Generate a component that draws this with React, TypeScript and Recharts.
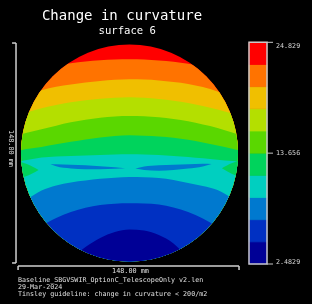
import React from "react";
import {
  ComposedChart,
  Area,
  XAxis,
  YAxis,
  ReferenceLine,
  ReferenceArea,
} from "recharts";

const W = 312;
const H = 304;
const M = { top: 35.7, right: 65.2, bottom: 33.7, left: 12.2 };
const SPAN = 80; // half width of the plotted window, mm
const APERTURE = 74; // semi-diameter of surface 6, mm
const BOTTOM = -90;
const TOP = 90;
const MONO = '"DejaVu Sans Mono", monospace';

// colour scale (change in curvature)
const levels = [
  2.4829, 4.7175, 6.9521, 9.1867, 11.4213, 13.656, 15.8906, 18.1252, 20.3598,
  22.5944, 24.829,
];
const levelColors = [
  "#000096",
  "#0030c2",
  "#0079cf",
  "#00cfc0",
  "#00d35c",
  "#5ad700",
  "#b4df00",
  "#f0bf00",
  "#ff7300",
  "#ff0000",
];
const scaleTicks = [2.4829, 13.656, 24.829];

// x positions across the aperture, mm
const gridX = [-80, -70, -60, -50, -40, -30, -20, -10, 0, 10, 20, 30, 40, 50, 60, 70, 80];

// contour lines (y in mm) between consecutive levels, lowest first
const edge1 = [-85, -85, -85, -78.4, -71.6, -64.1, -58.0, -53.9, -52.2, -52.9, -55.9, -61.7, -71.6, -83.2, -85, -85, -85];
const edge2 = [-66.2, -57.3, -49.8, -44.3, -40.2, -37.3, -35.5, -34.6, -34.3, -34.5, -35.2, -37.2, -40.2, -44.7, -50.5, -57.3, -66.2];
const edge3 = [-35.5, -31.4, -25.6, -22.2, -20.1, -18.8, -17.6, -16.8, -16.4, -16.5, -17.1, -18.4, -20.5, -22.5, -25.2, -30.7, -36.8];
const edge4 = [-6.8, -4.8, -3.1, -2.4, -2.0, -1.7, -1.4, -1.0, -0.9, -1.0, -1.4, -2.0, -2.7, -3.6, -4.6, -5.5, -6.8];
const edge5 = [0.7, 2.7, 4.1, 5.9, 7.6, 9.2, 10.6, 11.6, 12.1, 11.8, 11.3, 10.4, 9.0, 7.2, 5.1, 2.9, 0.7];
const edge6 = [10.9, 13.8, 16.2, 18.6, 20.9, 22.6, 24.0, 24.9, 25.2, 25.0, 24.3, 23.2, 21.6, 19.4, 17.1, 14.0, 10.9];
const edge7 = [23.9, 27.6, 30.5, 32.7, 34.6, 36.0, 37.0, 37.6, 38.0, 37.6, 36.8, 35.6, 34.1, 32.1, 29.7, 26.9, 23.9];
const edge8 = [35.5, 39.6, 42.8, 45.1, 46.7, 48.0, 49.1, 49.9, 50.3, 50.1, 49.5, 48.4, 47.1, 45.0, 42.0, 38.9, 34.8];
const edge9 = [52.7, 55.4, 57.7, 59.6, 61.2, 62.4, 63.2, 63.8, 63.9, 63.7, 63.1, 62.2, 60.9, 59.2, 57.3, 54.9, 52.1];
const edges = [edge1, edge2, edge3, edge4, edge5, edge6, edge7, edge8, edge9];

// small islands inside the cyan band, [low, high] in mm
type Range = [number, number] | null;
const islandX = [-80, -70, -62, -54, -50, -40, -30, -20, -10, -3, 4, 10, 20, 30, 40, 50, 56, 63, 70, 80];
const leftLobe: Range[] = [[-18.4, -4.8], [-15.7, -7.5], [-11.6, -11.6], null, null, null, null, null, null, null, null, null, null, null, null, null, null, null, null, null];
const leftStreak: Range[] = [null, null, null, [-7.7, -7.7], [-9.1, -7.7], [-10.6, -8.0], [-11.1, -8.4], [-11.1, -9.0], [-10.8, -9.7], [-10.4, -10.4], null, null, null, null, null, null, null, null, null, null];
const rightStreak: Range[] = [null, null, null, null, null, null, null, null, null, null, [-10.6, -10.6], [-11.6, -9.2], [-12.1, -8.4], [-11.6, -8.0], [-10.6, -7.7], [-9.2, -7.4], [-7.5, -7.5], null, null, null];
const rightLobe: Range[] = [null, null, null, null, null, null, null, null, null, null, null, null, null, null, null, null, null, [-10.4, -10.4], [-14.3, -6.8], [-17.1, -4.8]];

const bandRows = gridX.map((x, i) => {
  const row: Record<string, any> = { x, u9: [BOTTOM, TOP] };
  edges.forEach((e, j) => {
    row[`u${j}`] = [BOTTOM, e[i]];
  });
  return row;
});

const islandRows = islandX.map((x, i) => ({
  x,
  leftLobe: leftLobe[i],
  leftStreak: leftStreak[i],
  rightStreak: rightStreak[i],
  rightLobe: rightLobe[i],
}));

// one row per colour band for the scale bar
const scaleRows = levelColors.map((c, j) => ({ k: "scale", lo: levels[j], hi: levels[j + 1] }));

const pxPerMm = (W - M.left - M.right) / (2 * SPAN);
const apertureClip = `circle(${APERTURE * pxPerMm}px at ${M.left + SPAN * pxPerMm}px ${M.top + SPAN * pxPerMm}px)`;

const layer: React.CSSProperties = { position: "absolute", left: 0, top: 0 };
// grayscale text antialiasing
const textLayer: React.CSSProperties = { ...layer, willChange: "transform" };

function Axes() {
  return (
    <>
      <XAxis type="number" dataKey="x" domain={[-SPAN, SPAN]} allowDataOverflow hide />
      <YAxis type="number" domain={[-SPAN, SPAN]} allowDataOverflow hide />
    </>
  );
}

function BarTick({ x, y, payload }: any) {
  const v = payload.value;
  const shift = v === levels[levels.length - 1] ? 3 : v === levels[0] ? -2.3 : 0;
  return (
    <text x={x} y={y + shift} dy="0.35em" fill="#d8d8d8" fontSize={6.7} fontFamily={MONO}>
      {String(v)}
    </text>
  );
}

const barStroke = { stroke: "#d0d0d0", strokeWidth: 1.5 };
const textFill = "#e0e0e0";

export default function App() {
  return (
    <div
      style={{
        position: "fixed",
        left: 0,
        top: 0,
        width: W,
        height: H,
        background: "#000",
        overflow: "hidden",
      }}
    >
      <div style={{ ...layer, clipPath: apertureClip }}>
        <div style={layer}>
          <ComposedChart width={W} height={H} data={bandRows} margin={M}>
            {Axes()}
            {levelColors
              .map((c, j) => (
                <Area
                  key={j}
                  type="monotone"
                  dataKey={`u${j}`}
                  fill={c}
                  fillOpacity={1}
                  stroke="none"
                  dot={false}
                  activeDot={false}
                  isAnimationActive={false}
                />
              ))
              .reverse()}
          </ComposedChart>
        </div>
        <div style={layer}>
          <ComposedChart width={W} height={H} data={islandRows} margin={M}>
            {Axes()}
            {(["leftLobe", "rightLobe"] as const).map((k) => (
              <Area key={k} type="monotone" dataKey={k} fill={levelColors[4]} fillOpacity={1} stroke="none" dot={false} activeDot={false} isAnimationActive={false} />
            ))}
            {(["leftStreak", "rightStreak"] as const).map((k) => (
              <Area key={k} type="monotone" dataKey={k} fill={levelColors[2]} fillOpacity={1} stroke="none" dot={false} activeDot={false} isAnimationActive={false} />
            ))}
          </ComposedChart>
        </div>
      </div>

      {/* 148 mm scale bars */}
      <div style={layer}>
        <ComposedChart width={W} height={H} data={bandRows} margin={M}>
          {Axes()}
          <ReferenceLine ifOverflow="visible" segment={[{ x: -77.4, y: 75 }, { x: -77.4, y: -75 }]} {...barStroke} />
          <ReferenceLine ifOverflow="visible" segment={[{ x: -80.1, y: 75 }, { x: -77.4, y: 75 }]} {...barStroke} />
          <ReferenceLine ifOverflow="visible" segment={[{ x: -80.1, y: -75 }, { x: -77.4, y: -75 }]} {...barStroke} />
          <ReferenceLine ifOverflow="visible" segment={[{ x: -76, y: -77.1 }, { x: 74.7, y: -77.1 }]} {...barStroke} />
          <ReferenceLine ifOverflow="visible" segment={[{ x: -76, y: -77.1 }, { x: -76, y: -79.8 }]} {...barStroke} />
          <ReferenceLine ifOverflow="visible" segment={[{ x: 74.7, y: -77.1 }, { x: 74.7, y: -79.8 }]} {...barStroke} />
        </ComposedChart>
      </div>

      {/* colour bar */}
      <div style={textLayer}>
        <ComposedChart
          width={W}
          height={H}
          data={scaleRows}
          margin={{ top: 42.3, right: 0, bottom: 40, left: 249 }}
        >
          <XAxis dataKey="k" hide allowDuplicatedCategory={false} />
          <YAxis
            orientation="right"
            width={45}
            type="number"
            domain={[levels[0], levels[levels.length - 1]]}
            allowDataOverflow
            ticks={scaleTicks}
            interval={0}
            axisLine={false}
            tickLine={{ stroke: "#c8c8c8" }}
            tickSize={6}
            tickMargin={3}
            tick={<BarTick />}
          />
          {levelColors.map((c, j) => (
            <ReferenceArea
              key={j}
              y1={levels[j]}
              y2={levels[j + 1]}
              fill={c}
              fillOpacity={1}
              stroke={c}
              strokeWidth={0.8}
              ifOverflow="visible"
            />
          ))}
          <ReferenceArea
            y1={levels[0]}
            y2={levels[levels.length - 1]}
            fill="none"
            stroke="#c8c8c8"
            strokeWidth={1.5}
            ifOverflow="visible"
          />
        </ComposedChart>
      </div>

      <div style={textLayer}>
        <svg width={W} height={H} fontFamily={MONO} style={{ display: "block" }}>
          <text x={122} y={19.5} textAnchor="middle" fill="#fff" fontSize={14}>
            Change in curvature
          </text>
          <text x={127.3} y={33.5} textAnchor="middle" fill="#fff" fontSize={10.6}>
            surface 6
          </text>
          <text x={130.5} y={273} textAnchor="middle" fill={textFill} fontSize={6.8}>
            148.00 mm
          </text>
          <text
            x={10.8}
            y={148.5}
            textAnchor="middle"
            dominantBaseline="central"
            fill={textFill}
            fontSize={6.8}
            transform="rotate(90 10.8 148.5)"
          >
            148.00 mm
          </text>
          <text x={18} y={282} fill={textFill} fontSize={6.7}>
            Baseline_SBGVSWIR_OptionC_TelescopeOnly v2.len
          </text>
          <text x={18} y={289} fill={textFill} fontSize={6.7}>
            29-Mar-2024
          </text>
          <text x={18} y={295.7} fill={textFill} fontSize={6.7}>
            Tinsley guideline: change in curvature &lt; 200/m2
          </text>
        </svg>
      </div>
    </div>
  );
}
